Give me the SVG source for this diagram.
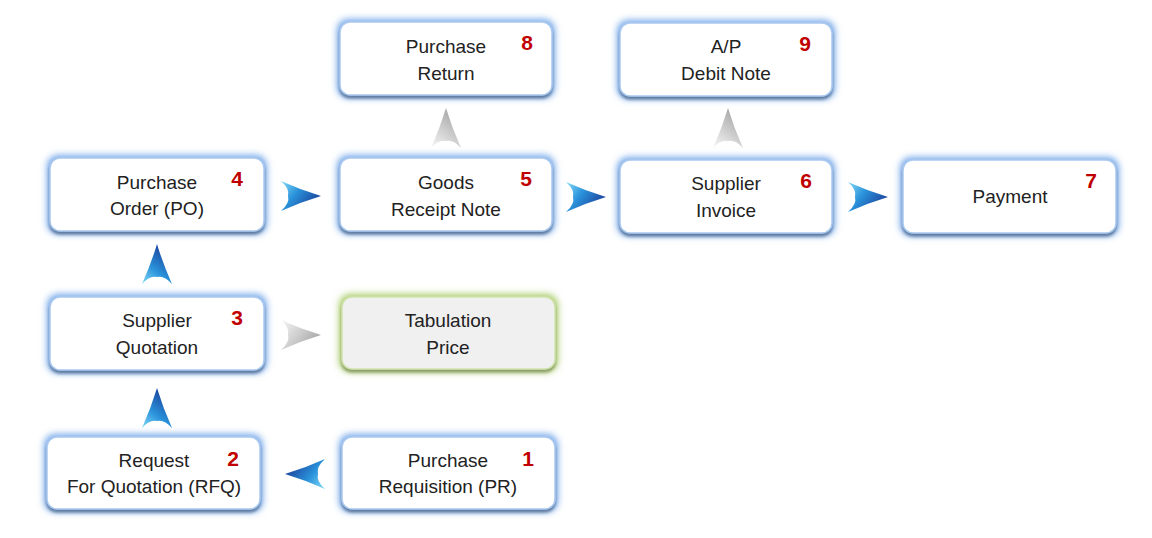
<svg xmlns="http://www.w3.org/2000/svg" width="1152" height="538" viewBox="0 0 1152 538">
<style>
.box{fill:#ffffff;stroke:#a9c9f0;stroke-width:1.5;filter:url(#glowB)}
.tab{fill:#f0f0f0;stroke:#cfe3aa;stroke-width:1.5;filter:url(#glowG)}
.t{font-family:"Liberation Sans",Arial,sans-serif;font-size:19px;fill:#222222;text-anchor:middle}
.n{font-family:"Liberation Sans",Arial,sans-serif;font-size:21px;font-weight:bold;fill:#c00000;text-anchor:middle}
</style>
<defs>
<filter id="glowB" x="-20%" y="-40%" width="140%" height="180%">
<feMorphology in="SourceAlpha" operator="dilate" radius="1.5" result="d"/>
<feGaussianBlur in="d" stdDeviation="3.5" result="b"/>
<feFlood flood-color="#5f9ae6" flood-opacity="0.9"/>
<feComposite in2="b" operator="in" result="g"/>
<feOffset in="SourceAlpha" dy="3" result="o"/>
<feGaussianBlur in="o" stdDeviation="1.5" result="ob"/>
<feFlood flood-color="#2b3645" flood-opacity="0.6"/>
<feComposite in2="ob" operator="in" result="s"/>
<feMerge><feMergeNode in="g"/><feMergeNode in="s"/><feMergeNode in="SourceGraphic"/></feMerge>
</filter>
<filter id="glowG" x="-20%" y="-40%" width="140%" height="180%">
<feMorphology in="SourceAlpha" operator="dilate" radius="1.5" result="d"/>
<feGaussianBlur in="d" stdDeviation="3.5" result="b"/>
<feFlood flood-color="#9cc452" flood-opacity="0.9"/>
<feComposite in2="b" operator="in" result="g"/>
<feOffset in="SourceAlpha" dy="3" result="o"/>
<feGaussianBlur in="o" stdDeviation="1.5" result="ob"/>
<feFlood flood-color="#3a4030" flood-opacity="0.5"/>
<feComposite in2="ob" operator="in" result="s"/>
<feMerge><feMergeNode in="g"/><feMergeNode in="s"/><feMergeNode in="SourceGraphic"/></feMerge>
</filter>
<linearGradient id="blueG" x1="0" y1="0.1" x2="1" y2="0.7">
<stop offset="0" stop-color="#7fd6f6"/>
<stop offset="0.4" stop-color="#2a93db"/>
<stop offset="1" stop-color="#1a3a96"/>
</linearGradient>
<linearGradient id="grayG" x1="0" y1="0.1" x2="1" y2="0.7">
<stop offset="0" stop-color="#f4f4f4"/>
<stop offset="0.5" stop-color="#cccccc"/>
<stop offset="1" stop-color="#a2a2a2"/>
</linearGradient>
<path id="dartB" d="M20,0 Q0,-6 -20,-15 Q-11,-7 -13,0 Q-11,7 -20,15 Q0,6 20,0 Z" fill="url(#blueG)"/>
<path id="dartG" d="M20,0 Q0,-6 -20,-15 Q-11,-7 -13,0 Q-11,7 -20,15 Q0,6 20,0 Z" fill="url(#grayG)"/>
</defs>
<rect width="1152" height="538" fill="#ffffff"/>

<g id="connectors">
<use href="#dartB" transform="translate(301,196)"/>
<use href="#dartB" transform="translate(586,197)"/>
<use href="#dartB" transform="translate(868,197)"/>
<use href="#dartB" transform="translate(305,474) rotate(180)"/>
<use href="#dartB" transform="translate(157,408) rotate(-90)"/>
<use href="#dartB" transform="translate(157,264) rotate(-90)"/>
<use href="#dartG" transform="translate(301,335)"/>
<use href="#dartG" transform="translate(446,128) rotate(-90)"/>
<use href="#dartG" transform="translate(728,128) rotate(-90)"/>
</g>

<g id="node8"><rect class="box" x="340" y="22" width="212" height="73" rx="10"/>
<text class="t" x="446" y="53">Purchase</text><text class="t" x="446" y="80">Return</text><text class="n" x="527" y="50">8</text></g>
<g id="node9"><rect class="box" x="620" y="23" width="212" height="73" rx="10"/>
<text class="t" x="726" y="53">A/P</text><text class="t" x="726" y="80">Debit Note</text><text class="n" x="805" y="51">9</text></g>
<g id="node4"><rect class="box" x="50" y="158" width="214" height="73" rx="10"/>
<text class="t" x="157" y="189">Purchase</text><text class="t" x="157" y="215">Order (PO)</text><text class="n" x="237" y="186">4</text></g>
<g id="node5"><rect class="box" x="340" y="158" width="212" height="73" rx="10"/>
<text class="t" x="446" y="189">Goods</text><text class="t" x="446" y="216">Receipt Note</text><text class="n" x="526" y="186">5</text></g>
<g id="node6"><rect class="box" x="620" y="160" width="212" height="73" rx="10"/>
<text class="t" x="726" y="190">Supplier</text><text class="t" x="726" y="217">Invoice</text><text class="n" x="806" y="188">6</text></g>
<g id="node7"><rect class="box" x="903" y="160" width="213" height="73" rx="10"/>
<text class="t" x="1010" y="203">Payment</text><text class="n" x="1091" y="188">7</text></g>
<g id="node3"><rect class="box" x="50" y="297" width="214" height="73" rx="10"/>
<text class="t" x="157" y="327">Supplier</text><text class="t" x="157" y="354">Quotation</text><text class="n" x="237" y="325">3</text></g>
<g id="tabulation"><rect class="tab" x="342" y="297" width="213" height="72" rx="10"/>
<text class="t" x="448" y="327">Tabulation</text><text class="t" x="448" y="354">Price</text></g>
<g id="node2"><rect class="box" x="47" y="437" width="213" height="72" rx="10"/>
<text class="t" x="154" y="467">Request</text><text class="t" x="154" y="493">For Quotation (RFQ)</text><text class="n" x="233" y="466">2</text></g>
<g id="node1"><rect class="box" x="342" y="437" width="213" height="72" rx="10"/>
<text class="t" x="448" y="467">Purchase</text><text class="t" x="448" y="493">Requisition (PR)</text><text class="n" x="528" y="466">1</text></g>
</svg>
